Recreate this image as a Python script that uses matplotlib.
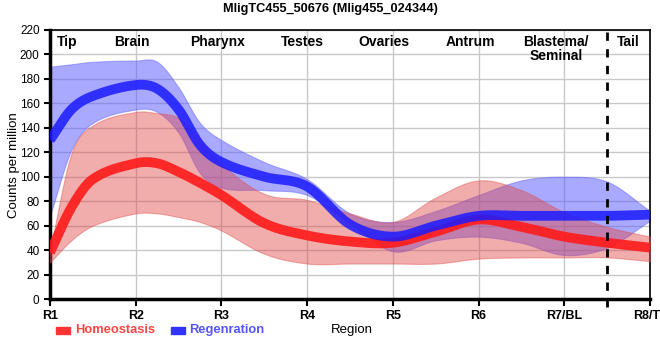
import matplotlib.pyplot as plt
import numpy as np

plt.rcParams['font.family'] = ['Liberation Sans', 'DejaVu Sans']

# データ (R1=0 ... R8=7 の位置で読み取り)
regions = ['R1', 'R2', 'R3', 'R4', 'R5', 'R6', 'R7/BL', 'R8/TL']
tissues = ['Tip', 'Brain', 'Pharynx', 'Testes', 'Ovaries', 'Antrum', 'Blastema/\nSeminal', 'Tail']
tissue_pos = [0.2, 0.95, 1.95, 2.95, 3.9, 4.9, 5.9, 6.75]

pos = [0, 0.25, 0.5, 1, 1.25, 1.5, 1.75, 2, 2.5, 3, 3.5, 4, 4.5, 5, 5.5, 6, 6.5, 7]

homeo_mean = [38, 75, 98, 111, 111, 104, 95, 85, 62, 52, 47, 46, 55, 65, 59, 51, 46, 42]
homeo_low = [30, 48, 60, 70, 70, 67, 63, 56, 37, 29, 29, 29, 29, 33, 34, 34, 34, 31]
homeo_high = [40, 119, 142, 153, 152, 148, 130, 110, 86, 81, 70, 63, 83, 97, 89, 71, 59, 51]

regen_mean = [130, 155, 166, 175, 172, 155, 126, 112, 100, 92, 61, 51, 60, 68, 68, 68, 68, 69]
regen_low = [68, 122, 144, 155, 153, 136, 103, 91, 89, 85, 62, 39, 48, 51, 46, 36, 42, 64]
regen_high = [190, 192, 194, 195, 194, 173, 144, 130, 112, 98, 70, 63, 72, 85, 97, 100, 96, 72]


def smooth(xp, yp, n=30):
    # 中心差分の接線で3次エルミート補間(線を滑らかに描くだけ)
    xp = np.asarray(xp, float)
    yp = np.asarray(yp, float)
    h = np.diff(xp)
    m = np.zeros_like(yp)
    m[1:-1] = (yp[2:] - yp[:-2]) / (xp[2:] - xp[:-2])
    m[0] = (yp[1] - yp[0]) / h[0]
    m[-1] = (yp[-1] - yp[-2]) / h[-1]
    xs, ys = [], []
    for k in range(len(xp) - 1):
        t = np.linspace(0, 1, n, endpoint=False)
        h00 = 2 * t ** 3 - 3 * t ** 2 + 1
        h10 = t ** 3 - 2 * t ** 2 + t
        h01 = -2 * t ** 3 + 3 * t ** 2
        h11 = t ** 3 - t ** 2
        xs.append(xp[k] + t * h[k])
        ys.append(h00 * yp[k] + h10 * h[k] * m[k] + h01 * yp[k + 1] + h11 * h[k] * m[k + 1])
    xs.append([xp[-1]])
    ys.append([yp[-1]])
    return np.concatenate(xs), np.concatenate(ys)


fig = plt.figure(figsize=(6.6, 3.6), dpi=100)
ax = fig.add_axes([50 / 660, 61 / 360, 600 / 660, 269 / 360])

x, hl = smooth(pos, homeo_low)
_, hh = smooth(pos, homeo_high)
_, rl = smooth(pos, regen_low)
_, rh = smooth(pos, regen_high)
_, hm = smooth(pos, homeo_mean)
_, rm = smooth(pos, regen_mean)

ax.fill_between(x, rl, rh, color='#5555ff', alpha=0.5, lw=0.8, edgecolor='#6666ff', zorder=2)
ax.fill_between(x, hl, hh, color='#e04848', alpha=0.45, lw=0.8, edgecolor='#e05050', zorder=3)
ax.plot(x, hm, color='#ff1a1a', lw=7, alpha=0.9, solid_capstyle='butt', zorder=4)
ax.plot(x, rm, color='#1a1aff', lw=7, alpha=0.85, solid_capstyle='butt', zorder=5)

ax.axvline(6.5, color='black', lw=2, ls=(0, (3, 3)), zorder=6, clip_on=False, ymin=-0.03)

ax.set_xlim(0, 7)
ax.set_ylim(0, 220)
ax.set_yticks(np.arange(0, 221, 20))
ax.set_xticks(range(len(regions)))
ax.set_xticklabels(regions, fontweight='bold', fontsize=9)
ax.tick_params(axis='y', labelsize=8.5, length=4, width=1.5)
ax.tick_params(axis='x', length=5, width=1.5, pad=3)
ax.grid(color='#c8c8c8', lw=1)
ax.set_axisbelow(True)

for s in ['left', 'bottom']:
    ax.spines[s].set_linewidth(2.5)
for s in ['top', 'right']:
    ax.spines[s].set_linewidth(1.2)

for t, p in zip(tissues, tissue_pos):
    ax.text(p, 216, t, ha='center', va='top', fontweight='bold', fontsize=10, linespacing=1.0)

fig.text(14 / 660, 1 - 165 / 360, 'Counts per million', rotation=90, ha='center', va='center', fontsize=9.5)
fig.text(352 / 660, 1 - 330 / 360, 'Region', ha='center', va='center', fontsize=9.5)
fig.suptitle('MligTC455_50676 (Mlig455_024344)', fontweight='bold', fontsize=9.2, y=1 - 9 / 360, va='center')

# 凡例
fig.patches.append(plt.Rectangle((56 / 660, 1 - 334 / 360), 14 / 660, 7 / 360, color='#ff3333',
                                 transform=fig.transFigure))
fig.text(75 / 660, 1 - 330 / 360, 'Homeostasis', color='#ff4444', fontsize=9.3, fontweight='bold', va='center')
fig.patches.append(plt.Rectangle((171 / 660, 1 - 334 / 360), 14 / 660, 7 / 360, color='#3333ff',
                                 transform=fig.transFigure))
fig.text(189 / 660, 1 - 330 / 360, 'Regenration', color='#5555ff', fontsize=9.3, fontweight='bold', va='center')

plt.savefig('out.png', dpi=100)
plt.close()
